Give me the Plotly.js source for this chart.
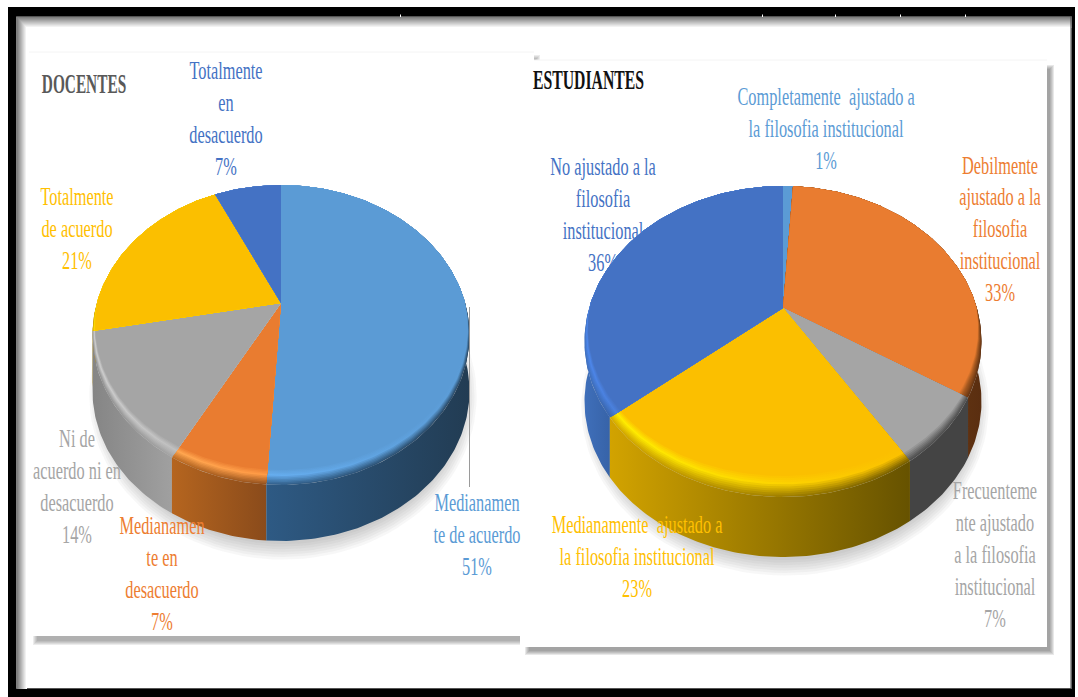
<!DOCTYPE html>
<html><head><meta charset="utf-8">
<script src="https://cdn.plot.ly/plotly-3.0.1.min.js"></script>
<style>html,body{margin:0;padding:0;background:#fff}#chart{width:1078px;height:697px}</style>
</head><body><div id="chart"></div>
<script>
// ---- data ----
const docentesCategories = [
  "Medianamen<br>te de acuerdo",
  "Medianamen<br>te en<br>desacuerdo",
  "Ni de<br>acuerdo ni en<br>desacuerdo",
  "Totalmente<br>de acuerdo",
  "Totalmente<br>en<br>desacuerdo"
];
const docentesValues = [51, 7, 14, 21, 7];
const estudiantesCategories = [
  "Completamente  ajustado a<br>la filosofia institucional",
  "Debilmente<br>ajustado a la<br>filosofia<br>institucional",
  "Frecuenteme<br>nte ajustado<br>a la filosofia<br>institucional",
  "Medianamente  ajustado a<br>la filosofia institucional",
  "No ajustado a la<br>filosofia<br>institucional"
];
const estudiantesValues = [1, 33, 7, 23, 36];

// ---- style / layout ----
const SERIF = "'Liberation Serif','Times New Roman',serif";
const BLUE='#5b9bd5',ORANGE='#e97c30',GRAY='#a5a5a5',YELLOW='#fbbf00',DBLUE='#4472c4';
const docStyle = {
  geo:{cx:281,rx:188.5,cy:335,ry:150,ax:303,h:56},bevel:1,
  labelXY:[[477,537],[162,576],[77,489],[77,231],[226,121]],
  text:['#5b9bd5','#ed7d31','#a5a5a5','#ffc000','#4472c4'],
  face:[BLUE,ORANGE,GRAY,YELLOW,DBLUE],
  sideL:['#2e5a84','#b5651f','#858585','#c09000','#2f5a9a'],
  sideR:['#223c53','#8a4b1b','#a0a0a0','#c09000','#2f5a9a'],
  hlL:['#66aef0','#ffa750','#cfcfcf','#ffe000','#5f90e0'],
  hlR:['#5b9bd5','#ff9a45','#c0c0c0','#ffe000','#5f90e0']
};
const estStyle = {
  geo:{cx:783,rx:198.5,cy:341.5,ry:155.5,ax:308,h:60},bevel:1.4,
  labelXY:[[826,131],[1000,231],[995,557],[637,559],[603,217]],
  text:['#5b9bd5','#ed7d31','#a5a5a5','#ffc000','#4472c4'],
  face:[BLUE,ORANGE,GRAY,YELLOW,DBLUE],
  sideL:['#2f6ba0','#5e3111','#444444','#d2a300','#3f6fba'],
  sideR:['#2f6ba0','#5a2e10','#444444','#665200','#3763a8'],
  hlL:['#5b9bd5','#a85a20','#a5a5a5','#ffee00','#4d88ee'],
  hlR:['#5b9bd5','#a85a20','#a5a5a5','#fbbf00','#4a80dd']
};
function hex(c){return [1,3,5].map(i=>parseInt(c.substr(i,2),16));}
function mix(a,b,t){const A=hex(a),B=hex(b);return 'rgb('+A.map((v,i)=>Math.round(v+(B[i]-v)*t)).join(',')+')';}
function toHex(rgb){const m=rgb.match(/\d+/g).map(Number);return '#'+m.map(v=>v.toString(16).padStart(2,'0')).join('');}

// value share -> point on the tilted (perspective) disc
function rim(phi,g){
  const a=(g.ax-g.cy)/g.ry, x=Math.sin(phi), y=-Math.cos(phi), d=1+a*y;
  return [g.cx+g.rx*x*Math.sqrt(1-a*a)/d, g.cy+g.ry*(y+a)/d];
}
function inset(p,d,g){
  const dx=p[0]-g.cx, dy=p[1]-g.ax, L=Math.hypot(dx,dy)||1;
  const w=Math.max(0,Math.min(1,(p[1]-g.cy+0.25*g.ry)/(1.25*g.ry)));
  const k=1-d*w/L;
  return [g.cx+dx*k, g.ax+dy*k];
}
function arc(p0,p1,g){
  const n=Math.max(2,Math.ceil((p1-p0)/(Math.PI/180))),o=[];
  for(let i=0;i<=n;i++)o.push(rim(p0+(p1-p0)*i/n,g));
  return o;
}
const base={type:'scatter',mode:'lines',line:{width:0},fill:'toself',hoverinfo:'skip',showlegend:false};
function poly(pts,extra){return Object.assign({},base,{x:pts.map(p=>p[0]),y:pts.map(p=>p[1])},extra);}
function grad(l,r,x0,x1){return {fillgradient:{type:'horizontal',colorscale:[[0,l],[1,r]],start:x0,stop:x1},fillcolor:'rgba(0,0,0,0)'};}

function pieTraces(values,st){
  const g=st.geo,total=values.reduce((a,b)=>a+b,0),out=[];
  // soft contact shadow
  for(let i=6;i>=0;i--){
    const pts=[];
    for(let k=0;k<=120;k++){const t=k/120*2*Math.PI;
      pts.push([g.cx+2+(g.rx+i*2.2-8)*Math.sin(t), g.cy+g.h+5+(g.ry+i*2.6-2)*Math.cos(t)]);}
    out.push(poly(pts,{fillcolor:'rgba(90,90,90,0.05)'}));
  }
  let c=0;const sl=values.map((v,i)=>{const p0=c/total*2*Math.PI;c+=v;return {i,p0,p1:c/total*2*Math.PI};});
  sl.forEach(s=>{
    const top=arc(s.p0,s.p1,g);
    const fr=top.filter(p=>p[1]>g.cy-2),xs=(fr.length?fr:top).map(p=>p[0]);
    s.x0=Math.min(...xs);s.x1=Math.max(...xs);
    if(s.x1-s.x0<1)s.x1=s.x0+1;
    s.top=top;s.my=Math.max(...top.map(p=>p[1]));
  });
  // side walls, back ones first
  sl.slice().sort((a,b)=>a.my-b.my).forEach(s=>{
    const low=s.top.slice().reverse().map(p=>[p[0],p[1]+g.h]);
    out.push(poly(s.top.concat(low),grad(st.sideL[s.i],st.sideR[s.i],s.x0,s.x1)));
  });
  // bevelled face, outer rim first: [inset, share of face colour, share of highlight over wall]
  const layers=[[0,0,0.12],[1.5,0,0.25],[3,0,0.4],[4.5,0,0.55],[6,0,0.7],[7.5,0,0.85],[9,0,1],[10.5,0.25,1],[12,0.5,1],[13.5,0.75,1],[15,1,1]];
  sl.forEach(s=>{
    const i=s.i,f=st.face[i];
    layers.forEach(l=>{
      const d=l[0]*st.bevel,toFace=l[1],hlAmt=l[2];
      const pts=[[g.cx,g.ax]].concat(arc(s.p0,s.p1,g).map(p=>inset(p,d,g)));
      const cL=toHex(mix(toHex(mix(st.sideL[i],st.hlL[i],hlAmt)),f,toFace));
      const cR=toHex(mix(toHex(mix(st.sideR[i],st.hlR[i],hlAmt)),f,toFace));
      out.push(poly(pts,grad(cL,cR,s.x0,s.x1)));
    });
  });
  return out;
}
function labelTrace(name,value,xy,color){
  return {type:'scatter',mode:'text',x:[xy[0]],y:[xy[1]],text:[name+'<br>'+value+'%'],
    textposition:'middle center',textfont:{family:SERIF,size:24,color:color},hoverinfo:'skip',showlegend:false};
}
function titleTrace(t,x,y,color,size){
  return {type:'scatter',mode:'text',x:[x],y:[y],text:['<b>'+t+'</b>'],textposition:'middle center',
    textfont:{family:SERIF,size:size,color:color},hoverinfo:'skip',showlegend:false};
}

const data=[];
// label hidden behind the right pie comes first
data.push(labelTrace(estudiantesCategories[4],estudiantesValues[4],estStyle.labelXY[4],estStyle.text[4]));
pieTraces(docentesValues,docStyle).forEach(t=>data.push(t));
pieTraces(estudiantesValues,estStyle).forEach(t=>data.push(t));
docentesCategories.forEach((n,i)=>data.push(labelTrace(n,docentesValues[i],docStyle.labelXY[i],docStyle.text[i])));
estudiantesCategories.forEach((n,i)=>{ if(i<4) data.push(labelTrace(n,estudiantesValues[i],estStyle.labelXY[i],estStyle.text[i])); });
data.push(titleTrace('DOCENTES',84,86,'#595959',26));
data.push(titleTrace('ESTUDIANTES',588.5,82,'#111111',26));

// page furniture
const shapes=[];
function rect(x0,y0,x1,y1,c,op){shapes.push({type:'rect',layer:'below',xref:'x',yref:'y',x0,y0,x1,y1,fillcolor:c,opacity:op==null?1:op,line:{width:0}});}
// frame
rect(8,7,1075,697,'#000000');
rect(16.5,16.5,1071.5,689,'#ffffff');
rect(16.5,688,1071.5,689,'#555555');
for(let i=0;i<10;i++){const c=mix('#808080','#ffffff',i/9);
  rect(17+i,17,18+i,689,c);
}
for(let i=0;i<11;i++){const c=mix('#808080','#ffffff',i/10);
  rect(17+Math.min(i,9),17+i,1071.5,18+i,c);
}
rect(16.5,16,1071.5,17,'#555555');
rect(1070.5,16.5,1071.5,689,'#444444');
[400,762,835,900,965].forEach(x=>rect(x,14.5,x+1,17,'#ffffff'));
// soft panel shadows
function shadow(x0,y0,x1,y1,dx,dy,n,op){
  for(let i=n;i>=0;i--) rect(x0+dx-i,y0+dy-i,x1+dx+i,y1+dy+i,'#404040',op);
}
shadow(35,56,534,638,2,3,4,0.10);
rect(29,52,534,636,'#ffffff');
shapes.push({type:'line',layer:'below',xref:'x',yref:'y',x0:29,y0:52,x1:534,y1:52,line:{color:'#f4f4f4',width:1}});
shadow(526,66,1047,648,3,3,4,0.12);
rect(520,60,1047,647,'#ffffff');
shapes.push({type:'line',layer:'below',xref:'x',yref:'y',x0:534,y0:60,x1:1047,y1:60,line:{color:'#f4f4f4',width:1}});
// leader line of the first docentes slice
shapes.push({type:'line',layer:'above',xref:'x',yref:'y',x0:469.5,y0:307,x1:469.5,y1:487,line:{color:'#9a9a9a',width:1}});

const layout={width:1078,height:697,margin:{l:0,r:0,t:0,b:0},paper_bgcolor:'#ffffff',plot_bgcolor:'#ffffff',
  hovermode:false,showlegend:false,shapes,
  xaxis:{range:[0,1078],visible:false,fixedrange:true},
  yaxis:{range:[697,0],visible:false,fixedrange:true}};
const SQUEEZE={DOCENTES:0.59,ESTUDIANTES:0.605};
Plotly.newPlot('chart',data,layout,{displayModeBar:false,staticPlot:true}).then(()=>{
  document.querySelectorAll('.textpoint text').forEach(t=>{
    const b=t.getBBox(),cx=b.x+b.width/2,cy=b.y+b.height/2,s=SQUEEZE[t.textContent]||0.68,prev=t.getAttribute('transform')||'';
    t.setAttribute('transform',prev+' translate('+cx+','+cy+') scale('+s+',1.02) translate('+(-cx)+','+(-cy)+')');
  });
});
</script></body></html>
